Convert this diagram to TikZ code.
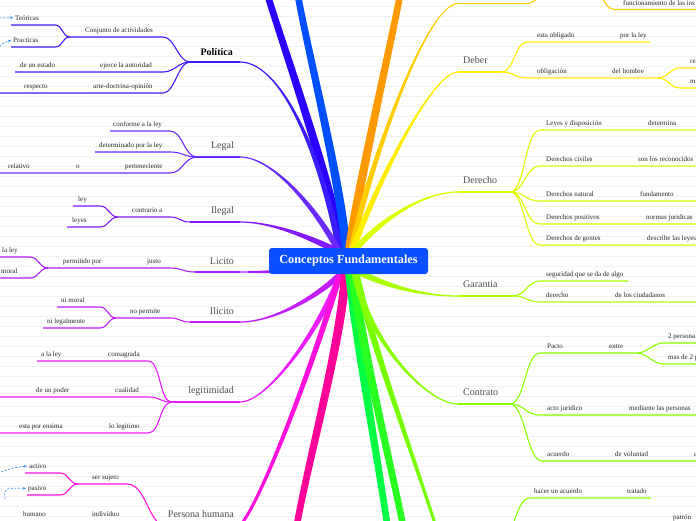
\documentclass[tikz,border=0pt]{standalone}
\usepackage{fontspec}
\setmainfont{Liberation Serif}
\usetikzlibrary{calc,arrows.meta,backgrounds}
\definecolor{cBlueD}{HTML}{2A00FF}
\definecolor{cBlueL}{HTML}{0050FF}
\definecolor{cPol}{HTML}{3A1EFF}
\definecolor{cLegal}{HTML}{6A2BFF}
\definecolor{cIleg}{HTML}{8418FF}
\definecolor{cLic}{HTML}{B01CFF}
\definecolor{cIlic}{HTML}{C21CFF}
\definecolor{cLegit}{HTML}{EB1CFF}
\definecolor{cPers}{HTML}{FF10DC}
\definecolor{cPink}{HTML}{FF0099}
\definecolor{cGreenA}{HTML}{00FF44}
\definecolor{cGreenB}{HTML}{2AFF22}
\definecolor{cLimeB}{HTML}{77FF00}
\definecolor{cCon}{HTML}{88FF00}
\definecolor{cGar}{HTML}{AAFF00}
\definecolor{cDer}{HTML}{DDFF00}
\definecolor{cDeber}{HTML}{FFEE00}
\definecolor{cOY}{HTML}{FFCC00}
\definecolor{cOrange}{HTML}{FF9900}
\definecolor{cArrow}{HTML}{3A96F0}
\definecolor{cBox}{HTML}{0A50FF}
% tapered branch: color, root, c1, c2, end, root offset, end offset
\newcommand\taper[7]{\fill[#1] ($(#2)+(#6)$) .. controls ($(#3)+(#6)$) and ($(#4)+(#7)$) .. ($(#5)+(#7)$) -- ($(#5)-(#7)$) .. controls ($(#4)-(#7)$) and ($(#3)-(#6)$) .. ($(#2)-(#6)$) -- cycle;}
% sub line: style, junction, name, start point, end x, control length
\newcommand\sline[6]{\coordinate (#3) at (#4);\coordinate (#3e) at (#5,0 |- #3);\draw[#1] (#2) .. controls +({#6},0) and +({-1*(#6)},0) .. (#3) -- (#3e);}
\begin{document}
\begin{tikzpicture}[x=1pt,y=-1pt,
  st/.style={font=\fontsize{7}{8}\selectfont, text=black!85, inner sep=0pt, anchor=base west},
  lblL/.style={font=\fontsize{10}{12}\selectfont, text=black!70, inner sep=0pt, anchor=base east},
  lblR/.style={font=\fontsize{10}{12}\selectfont, text=black!70, inner sep=0pt, anchor=base west},
  sb/.style={line width=1.1pt, draw=#1},
  gridl/.style={draw=black!5, line width=0.5pt},
  darr/.style={draw=cArrow, line width=0.7pt, dash pattern=on 2pt off 1.6pt, -{Stealth[length=3.2pt,width=3pt]}, shorten >=2pt},
  cbox/.style={fill=cBox, rounded corners=3pt, minimum width=159pt, minimum height=26pt, inner sep=0pt, text=white, font=\bfseries\fontsize{12.3}{14}\selectfont}]
\useasboundingbox (0,0) rectangle (696,520);
\node[cbox] (cf) at (348.5,261) {Conceptos Fundamentales};
\begin{pgfonlayer}{background}
\foreach \k in {0,...,51} \draw[gridl] (0,{6+10*\k}) -- (696,{6+10*\k});
% roots
\coordinate (rBD) at ($(cf.north)+(-7,3)$);
\coordinate (rBL) at ($(cf.north)+(-3,3)$);
\coordinate (rPol) at ($(cf.north)+(-9,3)$);
\coordinate (rLeg) at ($(cf.north)+(-10,3)$);
\coordinate (rIle) at ($(cf.north)+(-12,3)$);
\coordinate (rOr) at ($(cf.north)+(1,3)$);
\coordinate (rOY) at ($(cf.north)+(3,3)$);
\coordinate (rDeb) at ($(cf.north)+(4,3)$);
\coordinate (rDer) at ($(cf.north)+(6,3)$);
\coordinate (rIlc) at ($(cf.south)+(-5,-3)$);
\coordinate (rLgt) at ($(cf.south)+(-7,-3)$);
\coordinate (rPer) at ($(cf.south)+(-8,-3)$);
\coordinate (rPk) at ($(cf.south)+(-3,-3)$);
\coordinate (rGA) at ($(cf.south)+(1,-3)$);
\coordinate (rGB) at ($(cf.south)+(4,-3)$);
\coordinate (rLB) at ($(cf.south)+(7,-3)$);
\coordinate (rCon) at ($(cf.south)+(6,-3)$);
\coordinate (rGar) at ($(cf.south)+(8,-3)$);
\coordinate (rLic) at ($(cf.south west)+(2,-2.5)$);
% ends
\coordinate (eBD) at (266,-10);
\coordinate (eBL) at (297,-10);
\coordinate (eOr) at (401,-10);
\coordinate (ePol) at (240,62);
\coordinate (eLeg) at (240,157);
\coordinate (eIle) at (240,222);
\coordinate (eLic) at (240,272);
\coordinate (eIlc) at (240,322);
\coordinate (eLgt) at (240,402);
\coordinate (ePer) at (238,528);
\coordinate (ePk) at (296,530);
\coordinate (eGA) at (388,530);
\coordinate (eGB) at (404,530);
\coordinate (eLB) at (437,530);
\coordinate (eOY) at (458,3.5);
\coordinate (eDeb) at (458,72);
\coordinate (eDer) at (458,192);
\coordinate (eGar) at (458,296);
\coordinate (eCon) at (458,404);
% main tapered branches
\taper{cBlueD}{rBD}{334,190}{281,40}{eBD}{4.5,-0.55}{3.15,-1}
\taper{cBlueL}{rBL}{344,195}{305,40}{eBL}{4.5,-0.1}{3.25,-0.54}
\taper{cOrange}{rOr}{355,200}{392,40}{eOr}{4.47,0.48}{3.25,0.54}
\taper{cPol}{rPol}{325,170}{285,62}{ePol}{3,-0.5}{0,-0.6}
\taper{cLegal}{rLeg}{320,215}{275,157}{eLeg}{2.7,-1.35}{0,-0.6}
\taper{cIleg}{rIle}{315,240}{275,222}{eIle}{1.4,-2.7}{0,-0.6}
\taper{cLic}{rLic}{260,272}{250,272}{eLic}{0,1.4}{0,0.6}
\taper{cOY}{rOY}{365,180}{425,3.5}{eOY}{2.95,0.56}{0,0.6}
\taper{cDeber}{rDeb}{370,200}{430,72}{eDeb}{2.8,0.97}{0,0.6}
\taper{cDer}{rDer}{375,225}{420,192}{eDer}{2.36,1.86}{0,0.6}
\taper{cIlic}{rIlc}{320,295}{275,322}{eIlc}{-2.1,-2.1}{0,-0.6}
\taper{cLegit}{rLgt}{325,320}{270,402}{eLgt}{-2.85,-0.95}{0,-0.6}
\taper{cPers}{rPer}{325,330}{262,505}{ePer}{-2.9,-0.75}{-1.05,-1.1}
\taper{cPink}{rPk}{342,340}{308,460}{ePk}{-4.5,-0.23}{-3.26,-0.51}
\taper{cGreenA}{rGA}{356,340}{378,460}{eGA}{-4.48,0.43}{-3.27,0.42}
\taper{cGreenB}{rGB}{360,340}{390,460}{eGB}{-4.47,0.49}{-3.24,0.6}
\taper{cLimeB}{rLB}{370,340}{415,460}{eLB}{-3.43,0.73}{-1.44,0.41}
\taper{cCon}{rCon}{365,335}{425,404}{eCon}{-2.95,0.47}{0,0.6}
\taper{cGar}{rGar}{385,285}{420,296}{eGar}{-1.25,2.7}{0,0.6}
% Politica
\coordinate (polJ) at (190,62);
\draw[sb=cPol] (ePol) -- (polJ);
\sline{sb=cPol}{polJ}{pol1}{163,37}{70}{-12}
\sline{sb=cPol}{pol1e}{pol11}{55,25}{11}{-8}
\sline{sb=cPol}{pol1e}{pol12}{55,47}{11}{-8}
\sline{sb=cPol}{polJ}{pol2}{163,72}{15}{-12}
\sline{sb=cPol}{polJ}{pol3}{163,93}{-5}{-12}
% Legal
\coordinate (legJ) at (197,157);
\draw[sb=cLegal] (eLeg) -- (legJ);
\sline{sb=cLegal}{legJ}{leg1}{170,131}{110}{-13}
\sline{sb=cLegal}{legJ}{leg2}{170,152}{95}{-13}
\sline{sb=cLegal}{legJ}{leg3}{170,173}{-5}{-13}
% Ilegal
\coordinate (ileJ) at (190,222);
\draw[sb=cIleg] (eIle) -- (ileJ);
\sline{sb=cIleg}{ileJ}{ile1}{170,217}{118}{-10}
\sline{sb=cIleg}{ile1e}{ile11}{100,206}{73}{-9}
\sline{sb=cIleg}{ile1e}{ile12}{100,227}{67}{-9}
% Licito
\coordinate (licJ) at (195,272);
\draw[sb=cLic] (eLic) -- (licJ);
\sline{sb=cLic}{licJ}{lic1}{170,268}{48}{-12}
\sline{sb=cLic}{lic1e}{lic11}{30,257}{-5}{-9}
\sline{sb=cLic}{lic1e}{lic12}{30,278}{-5}{-9}
% Ilicito
\coordinate (ilcJ) at (190,322);
\draw[sb=cIlic] (eIlc) -- (ilcJ);
\sline{sb=cIlic}{ilcJ}{ilc1}{170,318}{116}{-10}
\sline{sb=cIlic}{ilc1e}{ilc11}{100,307}{57}{-8}
\sline{sb=cIlic}{ilc1e}{ilc12}{100,328}{43}{-8}
% legitimidad
\coordinate (lgtJ) at (172,402);
\draw[sb=cLegit] (eLgt) -- (lgtJ);
\sline{sb=cLegit}{lgtJ}{lgt1}{148,361}{37}{-13}
\sline{sb=cLegit}{lgtJ}{lgt2}{148,397}{-5}{-13}
\sline{sb=cLegit}{lgtJ}{lgt3}{148,433}{-5}{-13}
% Persona humana
\coordinate (perJ) at (168,527);
\draw[sb=cPers] (ePer) -- (perJ);
\sline{sb=cPers}{perJ}{per1}{127,484}{78}{-20}
\sline{sb=cPers}{per1e}{per11}{60,473}{25}{-9}
\sline{sb=cPers}{per1e}{per12}{60,495}{27}{-9}
% top right (off-screen parent)
\coordinate (oyJ) at (527,3.5);
\draw[sb=cOY] (eOY) -- (oyJ);
\coordinate (oyUp) at (552,-25);
\draw[sb=cOY] (oyJ) .. controls +(12,0) and +(-6,8) .. (oyUp);
\coordinate (fuJ) at (586,-22);
\sline{sb=cOY}{fuJ}{fu1}{614,9.5}{700}{11}
% Deber
\coordinate (debJ) at (502,72);
\draw[sb=cDeber] (eDeb) -- (debJ);
\sline{sb=cDeber}{debJ}{deb1}{527,42}{650}{12}
\sline{sb=cDeber}{debJ}{deb2}{527,78}{658}{12}
\sline{sb=cDeber}{deb2e}{deb21}{680,68}{700}{10}
\sline{sb=cDeber}{deb2e}{deb22}{680,88}{700}{10}
% Derecho
\coordinate (derJ) at (510,192);
\draw[sb=cDer] (eDer) -- (derJ);
\sline{sb=cDer}{derJ}{der1}{540,130}{700}{15}
\sline{sb=cDer}{derJ}{der2}{540,166}{700}{15}
\sline{sb=cDer}{derJ}{der3}{540,201}{700}{15}
\sline{sb=cDer}{derJ}{der4}{540,224}{700}{15}
\sline{sb=cDer}{derJ}{der5}{540,245}{700}{15}
% Garantia
\coordinate (garJ) at (513,296);
\draw[sb=cGar] (eGar) -- (garJ);
\sline{sb=cGar}{garJ}{gar1}{540,281}{628}{13}
\sline{sb=cGar}{garJ}{gar2}{540,302}{700}{13}
% Contrato
\coordinate (conJ) at (510,404);
\draw[sb=cCon] (eCon) -- (conJ);
\sline{sb=cCon}{conJ}{con1}{540,353}{637}{15}
\sline{sb=cCon}{con1e}{con11}{663,343}{700}{10}
\sline{sb=cCon}{con1e}{con12}{663,364}{700}{10}
\sline{sb=cCon}{conJ}{con2}{540,415}{700}{15}
\sline{sb=cCon}{conJ}{con3}{542,461}{700}{15}
% bottom lime
\coordinate (lbJ) at (500,540);
\sline{sb=cCon}{lbJ}{lb1}{530,498}{651}{15}
\end{pgfonlayer}
% left labels
\node[inner sep=0pt, anchor=base east, font=\bfseries\fontsize{10}{12}\selectfont] (lPol) at (233,55) {Política};
\node[lblL] (lLeg) at (234,148.5) {Legal};
\node[lblL] (lIle) at (234,213.5) {Ilegal};
\node[lblL] (lLic) at (234,264) {Licito};
\node[lblL] (lIlc) at (234,314) {Ilicito};
\node[lblL] (lLgt) at (234,393.5) {legitimidad};
\node[lblL] (lPer) at (234,517) {Persona humana};
% right labels
\node[lblR] (lDeb) at (463,63.5) {Deber};
\node[lblR] (lDer) at (463,183.5) {Derecho};
\node[lblR] (lGar) at (463,287.5) {Garantia};
\node[lblR] (lCon) at (463,395.5) {Contrato};
% Politica texts
\node[st] (tPol1) at (85,32) {Conjunto de actividades};
\node[st] (tTeo) at (15,20) {Teóricas};
\node[st] (tPra) at (13,42) {Practicas};
\node[st] (tPol2a) at (20,67) {de un estado};
\node[st] (tPol2b) at (100,67) {ejerce la autoridad};
\node[st] (tPol3a) at (24,88) {respecto};
\node[st] (tPol3b) at (93,88) {arte-doctrina-opinión};
% Legal texts
\node[st] (tLeg1) at (113,126) {conforme a la ley};
\node[st] (tLeg2) at (99,147) {determinado por la ley};
\node[st] (tLeg3a) at (8,168) {relativo};
\node[st] (tLeg3b) at (76,168) {o};
\node[st] (tLeg3c) at (125,168) {perteneciente};
% Ilegal texts
\node[st] (tIle1) at (132,212) {contrario a};
\node[st] (tIle11) at (78,201) {ley};
\node[st] (tIle12) at (72,222) {leyes};
% Licito texts
\node[st] (tLic1a) at (63,263) {permitido por};
\node[st] (tLic1b) at (147,263) {justo};
\node[st] (tLic11) at (2,252) {la ley};
\node[st] (tLic12) at (1,273) {moral};
% Ilicito texts
\node[st] (tIlc1) at (130,313) {no permite};
\node[st] (tIlc11) at (61,302) {ni moral};
\node[st] (tIlc12) at (47,323) {ni legalmente};
% legitimidad texts
\node[st] (tLgt1a) at (41,356) {a la ley};
\node[st] (tLgt1b) at (108,356) {consagrada};
\node[st] (tLgt2a) at (36,392) {de un poder};
\node[st] (tLgt2b) at (115,392) {cualidad};
\node[st] (tLgt3a) at (19,428) {esta por ensima};
\node[st] (tLgt3b) at (109,428) {lo legitimo};
% Persona texts
\node[st] (tPer1) at (92,479) {ser sujeto};
\node[st] (tAct) at (29,468) {activo};
\node[st] (tPas) at (28,490) {pasivo};
\node[st] (tHum) at (23,516) {humano};
\node[st] (tInd) at (92,516) {individuo};
% right texts
\node[st] (tFun) at (623,5.5) {funcionamiento de las ins};
\node[st] (tDeb1a) at (537,37) {esta obligado};
\node[st] (tDeb1b) at (620,37) {por la ley};
\node[st] (tDeb2a) at (537,73) {obligación};
\node[st] (tDeb2b) at (612,73) {del hombre};
\node[st] (tDeb21) at (690,63) {rel};
\node[st] (tDeb22) at (690,83) {m};
\node[st] (tDer1a) at (546,125) {Leyes y disposición};
\node[st] (tDer1b) at (648,125) {determina};
\node[st] (tDer2a) at (546,161) {Derechos civiles};
\node[st] (tDer2b) at (638,161) {son los reconocidos};
\node[st] (tDer3a) at (546,196) {Derechos natural};
\node[st] (tDer3b) at (640,196) {fundamento};
\node[st] (tDer4a) at (546,219) {Derechos positivos};
\node[st] (tDer4b) at (646,219) {normas juridicas};
\node[st] (tDer5a) at (546,240) {Derechos de gentes};
\node[st] (tDer5b) at (647,240) {describe las leyes};
\node[st] (tGar1) at (546,276) {seguridad que se da de algo};
\node[st] (tGar2a) at (546,297) {derecho};
\node[st] (tGar2b) at (615,297) {de los ciudadanos};
\node[st] (tCon1a) at (547,348) {Pacto};
\node[st] (tCon1b) at (609,348) {entre};
\node[st] (tCon11) at (668,338) {2 persona};
\node[st] (tCon12) at (668,359) {mas de 2 p};
\node[st] (tCon2a) at (547,410) {acto juridico};
\node[st] (tCon2b) at (629,410) {mediante las personas};
\node[st] (tCon3a) at (547,456) {acuerdo};
\node[st] (tCon3b) at (615,456) {de voluntad};
\node[st] (tCon3c) at (694,456) {c};
\node[st] (tLb1a) at (534,493) {hacer un acuerdo};
\node[st] (tLb1b) at (627,493) {tratado};
\node[st] (tPat) at (673,519) {patrón};
% dashed arrows
\coordinate (aT0) at (-4,18);
\coordinate (aP0) at (-3,49);
\coordinate (aA0) at (-2,473);
\coordinate (aS0) at (5,499);
\draw[darr] (aT0) -- (tTeo.west);
\draw[darr] (aP0) .. controls (3,43) .. (tPra.west);
\draw[darr] (aA0) .. controls (12,468) .. (tAct.west);
\draw[darr] (aS0) .. controls (4,488) .. (tPas.west);
\end{tikzpicture}
\end{document}
